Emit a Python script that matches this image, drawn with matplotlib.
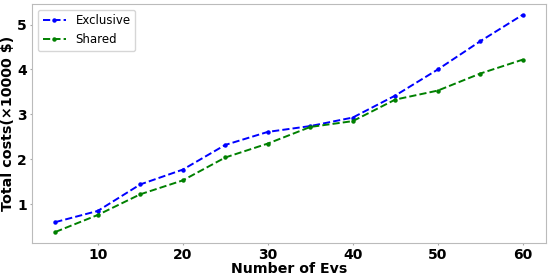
import matplotlib
matplotlib.use("Agg")
import matplotlib.pyplot as plt

EVS = [5, 10, 15, 20, 25, 30, 35, 40, 45, 50, 55, 60]
EXCLUSIVE = [0.60, 0.85, 1.44, 1.77, 2.32, 2.61, 2.74, 2.93, 3.42, 4.00, 4.63, 5.22]
SHARED = [0.38, 0.76, 1.22, 1.53, 2.04, 2.35, 2.72, 2.85, 3.33, 3.53, 3.91, 4.22]


def main():
    fig = plt.figure(figsize=(5.5, 2.76), dpi=100)
    ax = fig.add_axes([0.058, 0.12, 0.935, 0.866])

    ax.plot(EVS, EXCLUSIVE, "--", color="blue", marker="o", markersize=2.2,
            linewidth=1.4, label="Exclusive")
    ax.plot(EVS, SHARED, "--", color="green", marker="o", markersize=2.2,
            linewidth=1.4, label="Shared")

    ax.set_xticks([10, 20, 30, 40, 50, 60])
    ax.set_yticks([1, 2, 3, 4, 5])
    ax.tick_params(labelsize=10, length=1.5, pad=2, color="#aaaaaa")
    for lbl in ax.get_xticklabels() + ax.get_yticklabels():
        lbl.set_fontweight("bold")
    for sp in ax.spines.values():
        sp.set_color("#bbbbbb")

    ax.set_xlabel("Number of Evs", fontsize=10.2, fontweight="bold", labelpad=0)
    ax.set_ylabel("Total costs(×10000 $)", fontsize=10.3, fontweight="bold", labelpad=2)
    ax.legend(loc="upper left", fontsize=8.5)

    fig.savefig("out.png", dpi=100)
    plt.close(fig)


if __name__ == "__main__":
    main()
